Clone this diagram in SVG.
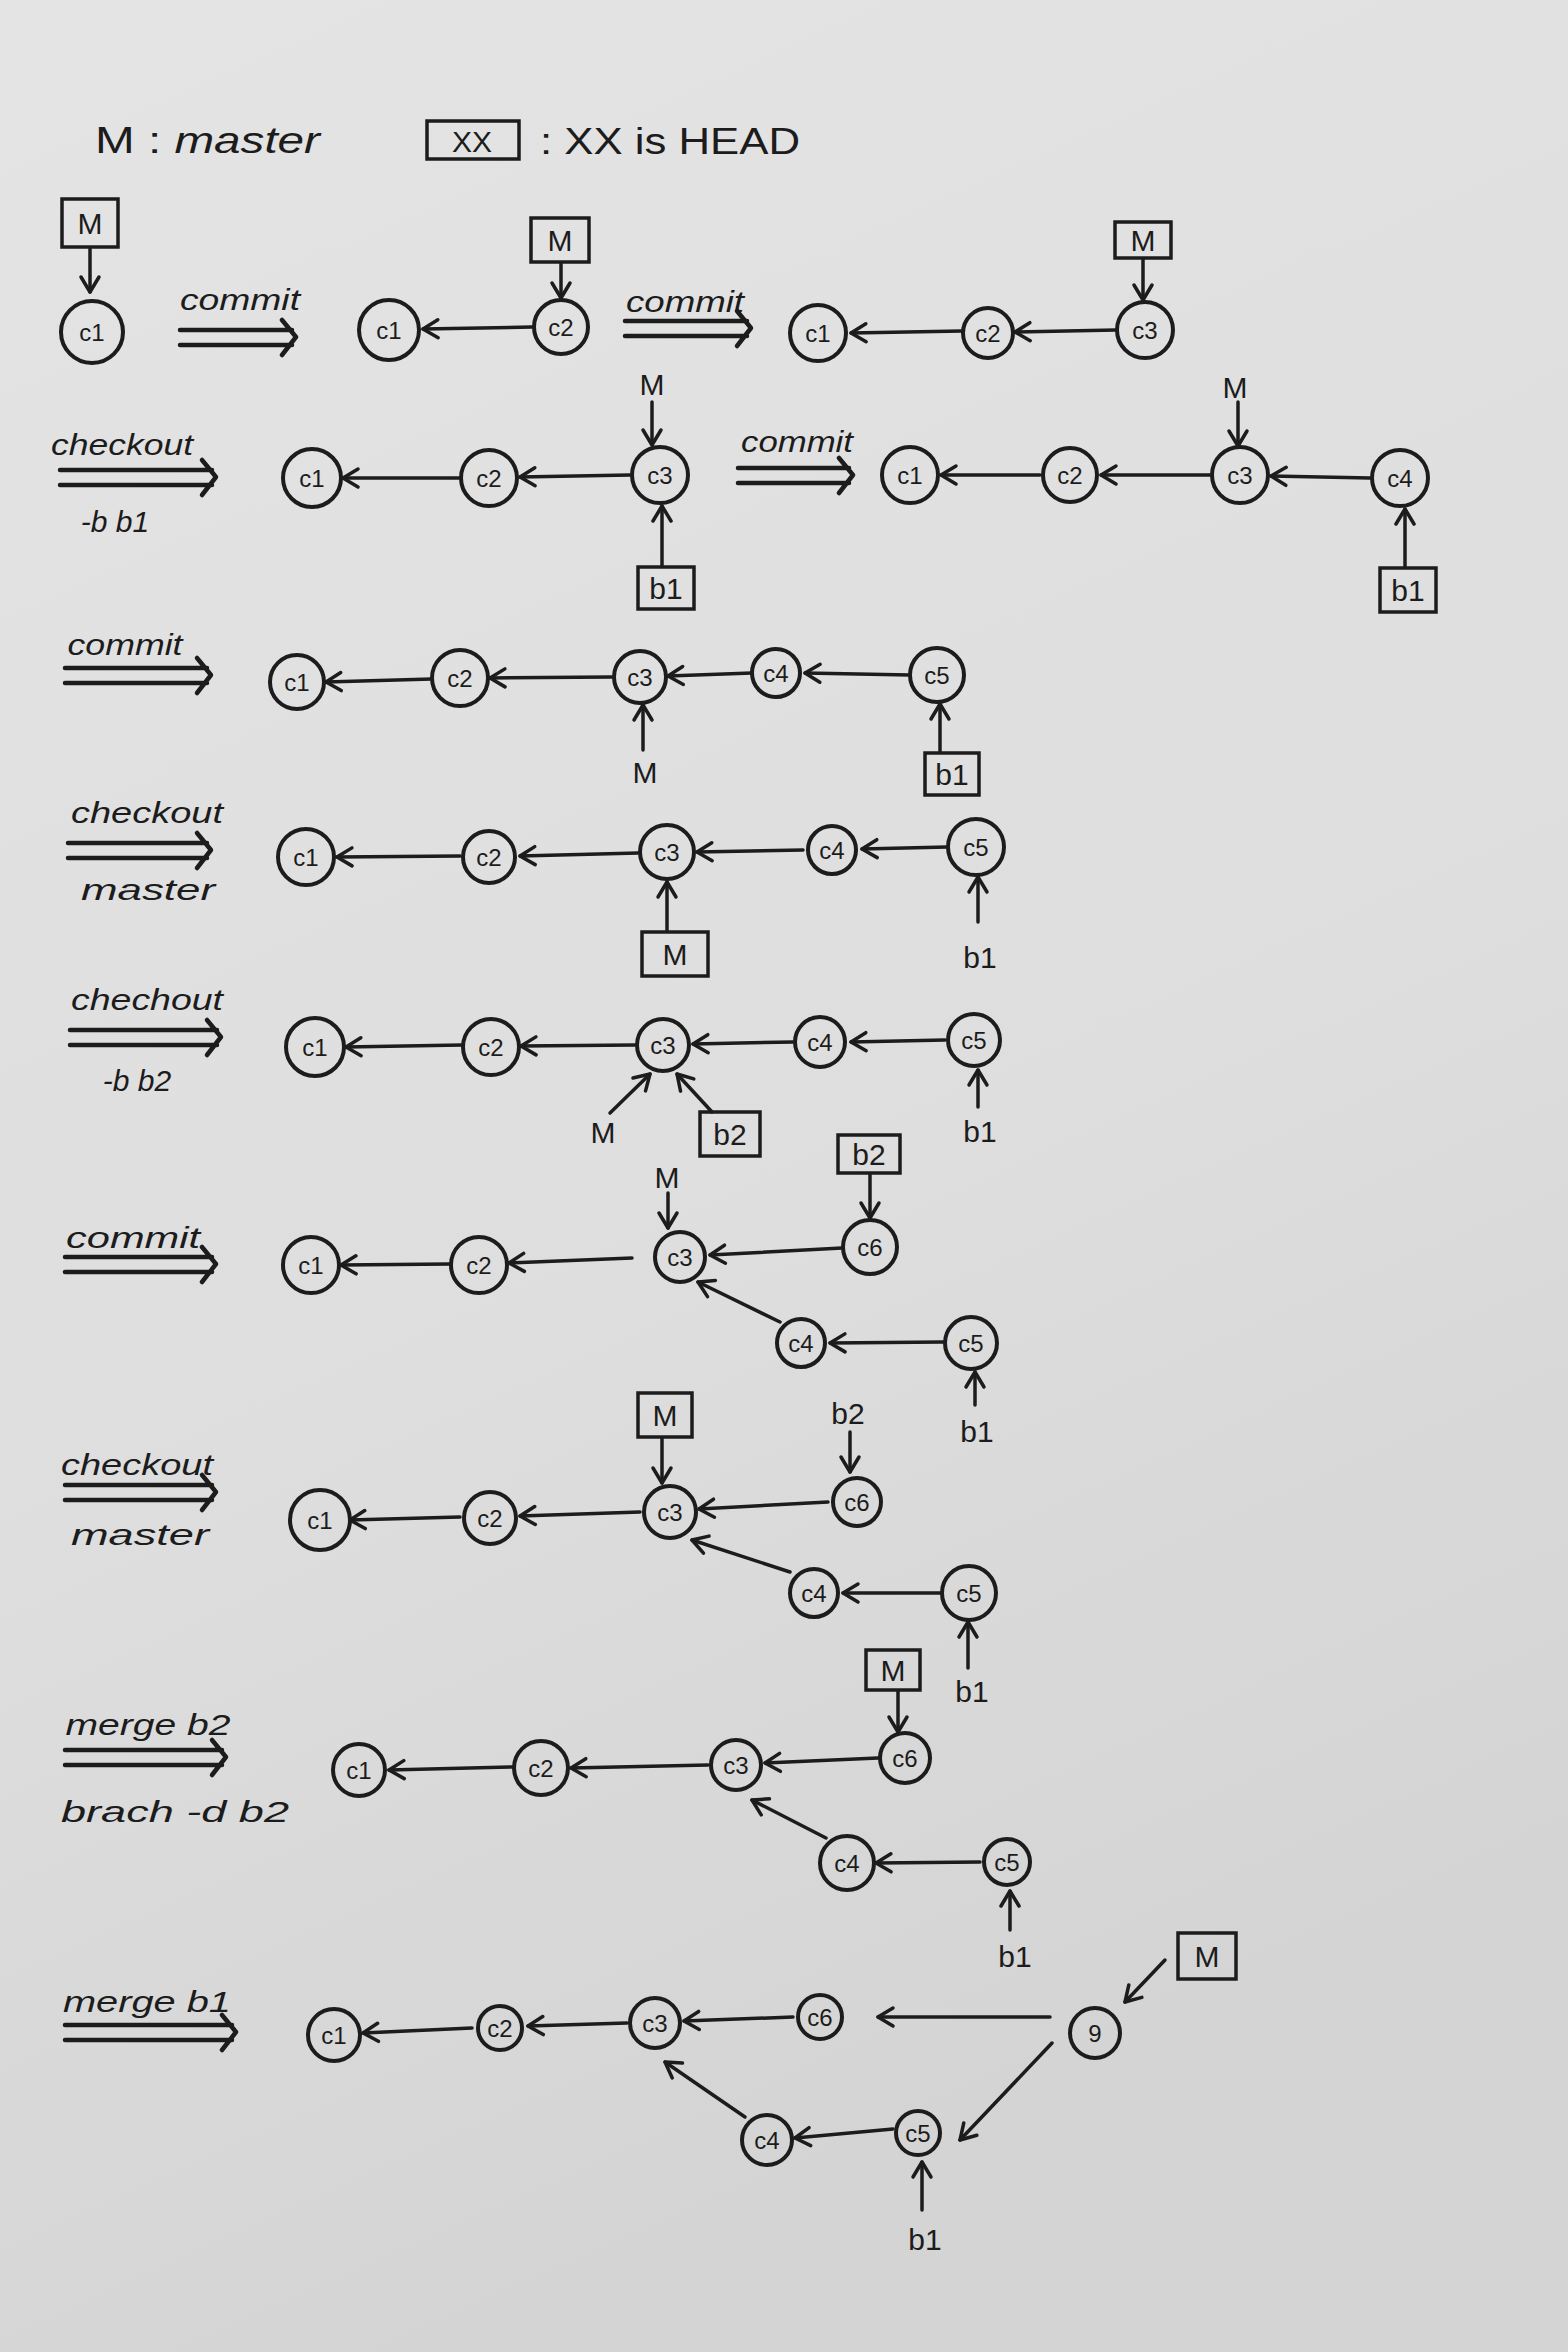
<svg xmlns="http://www.w3.org/2000/svg" width="1568" height="2352" viewBox="0 0 1568 2352">
<defs>
<linearGradient id="bg" x1="0" y1="0" x2="0.3" y2="1">
<stop offset="0" stop-color="#e4e4e4"/>
<stop offset="0.6" stop-color="#dedede"/>
<stop offset="1" stop-color="#d4d4d4"/>
</linearGradient>
<marker id="ah" markerUnits="userSpaceOnUse" markerWidth="24" markerHeight="24" refX="16" refY="10" orient="auto" overflow="visible">
<path d="M1,1 L16,10 L1,19" fill="none" stroke="#1c1c1c" stroke-width="3.5" stroke-linecap="round" stroke-linejoin="round"/>
</marker>
</defs>
<style>
.n circle{fill:none;stroke:#1c1c1c;stroke-width:4}
.n text{font-family:"Liberation Sans",Arial,sans-serif;font-size:24px;fill:#1c1c1c;text-anchor:middle;dominant-baseline:central}
.e{fill:none;stroke:#1c1c1c;stroke-width:3.5;stroke-linecap:round;marker-end:url(#ah)}
.box rect{fill:none;stroke:#1c1c1c;stroke-width:3.5}
.box text,.lb{font-family:"Liberation Sans",Arial,sans-serif;font-size:30px;fill:#1c1c1c;text-anchor:middle}
.op{font-family:"Liberation Sans",Arial,sans-serif;font-size:30px;font-style:italic;fill:#1c1c1c;text-anchor:middle}
.dbl{fill:none;stroke:#1c1c1c;stroke-width:4.5;stroke-linecap:round;stroke-linejoin:round}
.lg{font-family:"Liberation Sans",Arial,sans-serif;font-size:36px;fill:#1c1c1c}
</style>
<rect width="1568" height="2352" fill="url(#bg)"/>

<!-- legend -->
<g id="legend">
<text class="lg" x="95" y="153" textLength="225" lengthAdjust="spacingAndGlyphs">M : <tspan font-style="italic">master</tspan></text>
<g class="box"><rect x="427" y="121" width="92" height="38"/><text x="472" y="152" font-size="34">XX</text></g>
<text class="lg" x="540" y="154" textLength="260" lengthAdjust="spacingAndGlyphs">: XX is HEAD</text>
</g>

<!-- operation labels -->
<g id="ops">
<text class="op" x="240" y="310" textLength="120" lengthAdjust="spacingAndGlyphs">commit</text>
<path class="dbl" d="M180,330 H292 M180,345 H292 M282,320 L296,337 L282,355"/>
<text class="op" x="685" y="312" textLength="118" lengthAdjust="spacingAndGlyphs">commit</text>
<path class="dbl" d="M625,321 H747 M625,336 H747 M737,311 L751,328 L737,346"/>

<text class="op" x="122" y="455" textLength="142" lengthAdjust="spacingAndGlyphs">checkout</text>
<path class="dbl" d="M60,470 H212 M60,485 H212 M202,460 L216,477 L202,495"/>
<text class="op" x="115" y="532">-b b1</text>
<text class="op" x="797" y="452" textLength="112" lengthAdjust="spacingAndGlyphs">commit</text>
<path class="dbl" d="M738,468 H849 M738,483 H849 M839,458 L853,475 L839,493"/>

<text class="op" x="125" y="655" textLength="115" lengthAdjust="spacingAndGlyphs">commit</text>
<path class="dbl" d="M65,668 H207 M65,683 H207 M197,658 L211,675 L197,693"/>

<text class="op" x="147" y="823" textLength="152" lengthAdjust="spacingAndGlyphs">checkout</text>
<path class="dbl" d="M68,843 H207 M68,858 H207 M197,833 L211,850 L197,868"/>
<text class="op" x="148" y="900" textLength="134" lengthAdjust="spacingAndGlyphs">master</text>

<text class="op" x="147" y="1010" textLength="152" lengthAdjust="spacingAndGlyphs">chechout</text>
<path class="dbl" d="M70,1030 H217 M70,1045 H217 M207,1020 L221,1037 L207,1055"/>
<text class="op" x="137" y="1091">-b b2</text>

<text class="op" x="133" y="1248" textLength="134" lengthAdjust="spacingAndGlyphs">commit</text>
<path class="dbl" d="M65,1257 H212 M65,1272 H212 M202,1247 L216,1264 L202,1282"/>

<text class="op" x="137" y="1475" textLength="152" lengthAdjust="spacingAndGlyphs">checkout</text>
<path class="dbl" d="M65,1485 H212 M65,1500 H212 M202,1475 L216,1492 L202,1510"/>
<text class="op" x="140" y="1545" textLength="138" lengthAdjust="spacingAndGlyphs">master</text>

<text class="op" x="148" y="1735" textLength="165" lengthAdjust="spacingAndGlyphs">merge b2</text>
<path class="dbl" d="M65,1750 H222 M65,1765 H222 M212,1740 L226,1757 L212,1775"/>
<text class="op" x="175" y="1822" textLength="228" lengthAdjust="spacingAndGlyphs">brach -d b2</text>

<text class="op" x="147" y="2012" textLength="168" lengthAdjust="spacingAndGlyphs">merge b1</text>
<path class="dbl" d="M65,2025 H232 M65,2040 H232 M222,2015 L236,2032 L222,2050"/>
</g>

<!-- connectors -->
<g id="connectors">
<!-- row 1 -->
<path class="e" d="M90,249 V292"/>
<path class="e" d="M532,327 L423,329"/>
<path class="e" d="M561,263 V298"/>
<path class="e" d="M962,331 L851,333"/>
<path class="e" d="M1116,330 L1015,332"/>
<path class="e" d="M1143,259 V300"/>
<!-- row 2 -->
<path class="e" d="M459,478 L343,478"/>
<path class="e" d="M630,475 L520,477"/>
<path class="e" d="M652,402 V445"/>
<path class="e" d="M662,566 V506"/>
<path class="e" d="M1040,475 L941,475"/>
<path class="e" d="M1210,475 L1101,475"/>
<path class="e" d="M1370,478 L1271,476"/>
<path class="e" d="M1238,402 V446"/>
<path class="e" d="M1405,567 V509"/>
<!-- row 3 -->
<path class="e" d="M432,679 L326,682"/>
<path class="e" d="M612,677 L490,678"/>
<path class="e" d="M752,673 L668,676"/>
<path class="e" d="M910,675 L805,673"/>
<path class="e" d="M643,750 V705"/>
<path class="e" d="M940,752 V704"/>
<!-- row 4 -->
<path class="e" d="M460,856 L337,857"/>
<path class="e" d="M638,853 L520,856"/>
<path class="e" d="M803,850 L697,852"/>
<path class="e" d="M947,847 L862,849"/>
<path class="e" d="M667,931 V882"/>
<path class="e" d="M978,922 V877"/>
<!-- row 5 -->
<path class="e" d="M462,1045 L346,1047"/>
<path class="e" d="M635,1045 L521,1046"/>
<path class="e" d="M793,1042 L693,1044"/>
<path class="e" d="M945,1040 L851,1042"/>
<path class="e" d="M610,1113 L650,1074"/>
<path class="e" d="M712,1112 L677,1074"/>
<path class="e" d="M978,1107 V1070"/>
<!-- row 6 -->
<path class="e" d="M870,1174 V1218"/>
<path class="e" d="M668,1193 V1228"/>
<path class="e" d="M450,1264 L341,1265"/>
<path class="e" d="M632,1258 L509,1263"/>
<path class="e" d="M842,1248 L710,1255"/>
<path class="e" d="M943,1342 L830,1343"/>
<path class="e" d="M780,1322 L698,1282"/>
<path class="e" d="M975,1405 V1372"/>
<!-- row 7 -->
<path class="e" d="M662,1438 V1483"/>
<path class="e" d="M850,1432 V1472"/>
<path class="e" d="M460,1517 L350,1520"/>
<path class="e" d="M640,1512 L520,1516"/>
<path class="e" d="M828,1502 L699,1509"/>
<path class="e" d="M941,1593 L843,1593"/>
<path class="e" d="M790,1572 L692,1540"/>
<path class="e" d="M968,1668 V1622"/>
<!-- row 8 -->
<path class="e" d="M898,1691 V1732"/>
<path class="e" d="M512,1767 L389,1770"/>
<path class="e" d="M708,1765 L571,1768"/>
<path class="e" d="M878,1758 L765,1763"/>
<path class="e" d="M980,1862 L876,1863"/>
<path class="e" d="M826,1838 L752,1800"/>
<path class="e" d="M1010,1930 V1891"/>
<!-- row 9 -->
<path class="e" d="M1165,1960 L1125,2002"/>
<path class="e" d="M472,2028 L363,2033"/>
<path class="e" d="M627,2023 L528,2026"/>
<path class="e" d="M793,2017 L684,2021"/>
<path class="e" d="M1050,2017 L878,2017"/>
<path class="e" d="M893,2129 L795,2138"/>
<path class="e" d="M745,2117 L665,2062"/>
<path class="e" d="M1052,2043 L960,2140"/>
<path class="e" d="M922,2210 V2162"/>
</g>

<!-- branch labels / HEAD boxes -->
<g id="refs">
<g class="box" id="r1-M1"><rect x="62" y="199" width="56" height="48"/><text x="90" y="234">M</text></g>
<g class="box" id="r1-M2"><rect x="531" y="218" width="58" height="44"/><text x="560" y="251">M</text></g>
<g class="box" id="r1-M3"><rect x="1115" y="222" width="56" height="36"/><text x="1143" y="251">M</text></g>

<text class="lb" id="r2-M1" x="652" y="395">M</text>
<g class="box" id="r2-b1a"><rect x="638" y="567" width="56" height="42"/><text x="666" y="599">b1</text></g>
<text class="lb" id="r2-M2" x="1235" y="398">M</text>
<g class="box" id="r2-b1b"><rect x="1380" y="568" width="56" height="44"/><text x="1408" y="601">b1</text></g>

<text class="lb" id="r3-M" x="645" y="783">M</text>
<g class="box" id="r3-b1"><rect x="925" y="753" width="54" height="42"/><text x="952" y="785">b1</text></g>

<g class="box" id="r4-M"><rect x="642" y="932" width="66" height="44"/><text x="675" y="965">M</text></g>
<text class="lb" id="r4-b1" x="980" y="968">b1</text>

<text class="lb" id="r5-M" x="603" y="1143">M</text>
<g class="box" id="r5-b2"><rect x="700" y="1112" width="60" height="44"/><text x="730" y="1145">b2</text></g>
<text class="lb" id="r5-b1" x="980" y="1142">b1</text>

<g class="box" id="r6-b2"><rect x="838" y="1135" width="62" height="38"/><text x="869" y="1165">b2</text></g>
<text class="lb" id="r6-M" x="667" y="1188">M</text>
<text class="lb" id="r6-b1" x="977" y="1442">b1</text>

<g class="box" id="r7-M"><rect x="638" y="1393" width="54" height="44"/><text x="665" y="1426">M</text></g>
<text class="lb" id="r7-b2" x="848" y="1424">b2</text>
<text class="lb" id="r7-b1" x="972" y="1702">b1</text>

<g class="box" id="r8-M"><rect x="866" y="1650" width="54" height="40"/><text x="893" y="1681">M</text></g>
<text class="lb" id="r8-b1" x="1015" y="1967">b1</text>

<g class="box" id="r9-M"><rect x="1178" y="1933" width="58" height="46"/><text x="1207" y="1967">M</text></g>
<text class="lb" id="r9-b1" x="925" y="2250">b1</text>
</g>

<!-- commit nodes -->
<g id="nodes">
<g class="n" id="r1a-c1"><circle cx="92" cy="332" r="31"/><text x="92" y="332">c1</text></g>
<g class="n" id="r1b-c1"><circle cx="389" cy="330" r="30"/><text x="389" y="330">c1</text></g>
<g class="n" id="r1b-c2"><circle cx="561" cy="327" r="27"/><text x="561" y="327">c2</text></g>
<g class="n" id="r1c-c1"><circle cx="818" cy="333" r="28"/><text x="818" y="333">c1</text></g>
<g class="n" id="r1c-c2"><circle cx="988" cy="333" r="25"/><text x="988" y="333">c2</text></g>
<g class="n" id="r1c-c3"><circle cx="1145" cy="330" r="28"/><text x="1145" y="330">c3</text></g>

<g class="n" id="r2a-c1"><circle cx="312" cy="478" r="29"/><text x="312" y="478">c1</text></g>
<g class="n" id="r2a-c2"><circle cx="489" cy="478" r="28"/><text x="489" y="478">c2</text></g>
<g class="n" id="r2a-c3"><circle cx="660" cy="475" r="28"/><text x="660" y="475">c3</text></g>
<g class="n" id="r2b-c1"><circle cx="910" cy="475" r="28"/><text x="910" y="475">c1</text></g>
<g class="n" id="r2b-c2"><circle cx="1070" cy="475" r="27"/><text x="1070" y="475">c2</text></g>
<g class="n" id="r2b-c3"><circle cx="1240" cy="475" r="28"/><text x="1240" y="475">c3</text></g>
<g class="n" id="r2b-c4"><circle cx="1400" cy="478" r="28"/><text x="1400" y="478">c4</text></g>

<g class="n" id="r3-c1"><circle cx="297" cy="682" r="27"/><text x="297" y="682">c1</text></g>
<g class="n" id="r3-c2"><circle cx="460" cy="678" r="28"/><text x="460" y="678">c2</text></g>
<g class="n" id="r3-c3"><circle cx="640" cy="677" r="26"/><text x="640" y="677">c3</text></g>
<g class="n" id="r3-c4"><circle cx="776" cy="673" r="24"/><text x="776" y="673">c4</text></g>
<g class="n" id="r3-c5"><circle cx="937" cy="675" r="27"/><text x="937" y="675">c5</text></g>

<g class="n" id="r4-c1"><circle cx="306" cy="857" r="28"/><text x="306" y="857">c1</text></g>
<g class="n" id="r4-c2"><circle cx="489" cy="857" r="26"/><text x="489" y="857">c2</text></g>
<g class="n" id="r4-c3"><circle cx="667" cy="852" r="27"/><text x="667" y="852">c3</text></g>
<g class="n" id="r4-c4"><circle cx="832" cy="850" r="24"/><text x="832" y="850">c4</text></g>
<g class="n" id="r4-c5"><circle cx="976" cy="847" r="28"/><text x="976" y="847">c5</text></g>

<g class="n" id="r5-c1"><circle cx="315" cy="1047" r="29"/><text x="315" y="1047">c1</text></g>
<g class="n" id="r5-c2"><circle cx="491" cy="1047" r="28"/><text x="491" y="1047">c2</text></g>
<g class="n" id="r5-c3"><circle cx="663" cy="1045" r="26"/><text x="663" y="1045">c3</text></g>
<g class="n" id="r5-c4"><circle cx="820" cy="1042" r="25"/><text x="820" y="1042">c4</text></g>
<g class="n" id="r5-c5"><circle cx="974" cy="1040" r="26"/><text x="974" y="1040">c5</text></g>

<g class="n" id="r6-c1"><circle cx="311" cy="1265" r="28"/><text x="311" y="1265">c1</text></g>
<g class="n" id="r6-c2"><circle cx="479" cy="1265" r="28"/><text x="479" y="1265">c2</text></g>
<g class="n" id="r6-c3"><circle cx="680" cy="1257" r="25"/><text x="680" y="1257">c3</text></g>
<g class="n" id="r6-c6"><circle cx="870" cy="1247" r="27"/><text x="870" y="1247">c6</text></g>
<g class="n" id="r6-c4"><circle cx="801" cy="1343" r="24"/><text x="801" y="1343">c4</text></g>
<g class="n" id="r6-c5"><circle cx="971" cy="1343" r="26"/><text x="971" y="1343">c5</text></g>

<g class="n" id="r7-c1"><circle cx="320" cy="1520" r="30"/><text x="320" y="1520">c1</text></g>
<g class="n" id="r7-c2"><circle cx="490" cy="1518" r="26"/><text x="490" y="1518">c2</text></g>
<g class="n" id="r7-c3"><circle cx="670" cy="1512" r="26"/><text x="670" y="1512">c3</text></g>
<g class="n" id="r7-c6"><circle cx="857" cy="1502" r="24"/><text x="857" y="1502">c6</text></g>
<g class="n" id="r7-c4"><circle cx="814" cy="1593" r="24"/><text x="814" y="1593">c4</text></g>
<g class="n" id="r7-c5"><circle cx="969" cy="1593" r="27"/><text x="969" y="1593">c5</text></g>

<g class="n" id="r8-c1"><circle cx="359" cy="1770" r="26"/><text x="359" y="1770">c1</text></g>
<g class="n" id="r8-c2"><circle cx="541" cy="1768" r="27"/><text x="541" y="1768">c2</text></g>
<g class="n" id="r8-c3"><circle cx="736" cy="1765" r="25"/><text x="736" y="1765">c3</text></g>
<g class="n" id="r8-c6"><circle cx="905" cy="1758" r="25"/><text x="905" y="1758">c6</text></g>
<g class="n" id="r8-c4"><circle cx="847" cy="1863" r="27"/><text x="847" y="1863">c4</text></g>
<g class="n" id="r8-c5"><circle cx="1007" cy="1862" r="23"/><text x="1007" y="1862">c5</text></g>

<g class="n" id="r9-c1"><circle cx="334" cy="2035" r="26"/><text x="334" y="2035">c1</text></g>
<g class="n" id="r9-c2"><circle cx="500" cy="2028" r="22"/><text x="500" y="2028">c2</text></g>
<g class="n" id="r9-c3"><circle cx="655" cy="2023" r="25"/><text x="655" y="2023">c3</text></g>
<g class="n" id="r9-c6"><circle cx="820" cy="2017" r="22"/><text x="820" y="2017">c6</text></g>
<g class="n" id="r9-c9"><circle cx="1095" cy="2033" r="25"/><text x="1095" y="2033">9</text></g>
<g class="n" id="r9-c4"><circle cx="767" cy="2140" r="25"/><text x="767" y="2140">c4</text></g>
<g class="n" id="r9-c5"><circle cx="918" cy="2133" r="22"/><text x="918" y="2133">c5</text></g>
</g>
</svg>
